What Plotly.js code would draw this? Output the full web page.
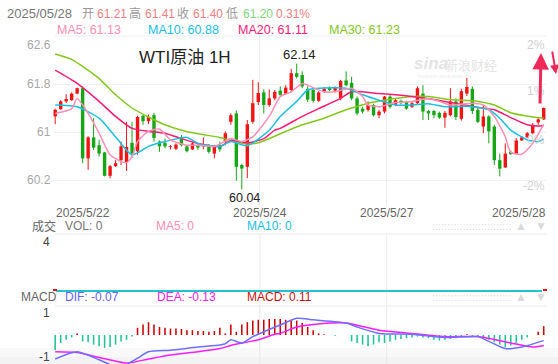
<!DOCTYPE html>
<html><head><meta charset="utf-8">
<script src="https://cdn.plot.ly/plotly-3.0.1.min.js"></script>
<style>html,body{margin:0;padding:0;background:#fff;}#chart{width:558px;height:364px;}</style>
</head><body><div id="chart"></div>
<script>
// ---- data ----
const openP  = [61.26,61.38,61.51,61.53,61.64,61.73,60.56,60.91,60.78,60.66,60.27,60.43,60.53,60.50,60.82,60.68,61.27,61.18,61.28,60.84,60.82,60.75,60.72,60.91,60.76,60.71,60.78,60.76,60.78,60.64,60.78,60.84,61.17,61.31,60.45,60.42,61.17,61.50,61.66,61.45,61.56,61.69,61.64,61.70,61.98,61.95,61.72,61.70,61.52,61.67,61.74,61.69,61.56,61.86,61.82,61.56,61.39,61.37,61.45,61.28,61.34,61.59,61.45,61.52,61.50,61.42,61.48,61.64,61.35,61.35,61.32,61.24,61.28,61.51,61.22,61.64,61.72,61.37,61.09,61.26,61.09,60.53,60.41,60.67,60.64,60.86,60.91,60.98,61.16,61.21];
const highP  = [61.39,61.53,61.63,61.66,61.74,61.76,60.93,61.23,60.87,60.67,60.45,60.53,60.84,61.17,61.17,61.27,61.29,61.29,61.32,60.86,60.89,60.78,60.81,60.95,60.78,60.84,60.80,60.91,60.80,60.78,60.84,61.01,61.31,61.36,60.47,61.20,61.87,61.83,61.71,61.71,61.70,61.76,61.78,62.05,62.14,62.01,61.76,61.73,61.68,61.75,61.76,61.76,61.87,62.01,61.92,61.59,61.42,61.51,61.47,61.37,61.60,61.62,61.55,61.54,61.52,61.50,61.76,61.78,61.37,61.37,61.34,61.35,61.73,61.56,61.72,61.90,61.76,61.40,61.45,61.28,61.12,60.64,60.81,60.69,60.90,60.93,61.00,61.15,61.24,61.41];
const lowP   = [61.13,61.37,61.48,61.52,61.63,60.48,60.37,60.70,60.59,60.26,60.23,60.42,60.45,60.35,60.57,60.62,61.12,61.13,60.84,60.67,60.73,60.71,60.70,60.76,60.66,60.70,60.70,60.71,60.64,60.56,60.67,60.78,61.12,60.19,60.04,60.23,61.14,61.45,61.31,61.42,61.53,61.59,61.62,61.66,61.89,61.73,61.50,61.49,61.50,61.65,61.68,61.66,61.53,61.76,61.53,61.28,61.31,61.34,61.26,61.23,61.31,61.39,61.43,61.46,61.37,61.40,61.45,61.20,61.20,61.23,61.22,61.07,61.26,61.20,61.19,61.60,61.30,61.15,60.98,60.81,60.45,60.26,60.40,60.62,60.63,60.85,60.90,60.96,61.12,61.20];
const closeP = [61.37,61.51,61.55,61.64,61.73,60.56,60.91,60.74,60.64,60.27,60.43,60.48,60.76,60.75,60.64,61.25,61.18,61.25,60.90,60.76,60.76,60.76,60.79,60.78,60.68,60.81,60.74,60.79,60.67,60.75,60.71,60.98,61.28,60.42,60.39,61.13,61.48,61.65,61.45,61.56,61.67,61.62,61.74,61.98,61.92,61.76,61.54,61.52,61.66,61.72,61.70,61.74,61.85,61.78,61.56,61.31,61.34,61.45,61.28,61.34,61.59,61.42,61.53,61.48,61.39,61.48,61.73,61.34,61.31,61.28,61.24,61.32,61.51,61.25,61.68,61.75,61.35,61.17,61.26,61.01,60.53,60.39,60.64,60.63,60.86,60.91,60.98,61.12,61.21,61.40];

const ma5Idx  = [0,3,4,6,8,10,12,13,14,15,17,19,21,24,26,29,32,34,36,39,41,43,45,46,49,51,54,56,57,59,62,65,68,70,72,76,78,80,82,83,85,87,89];
const ma5Val  = [61.31,61.39,61.56,61.31,60.98,60.62,60.51,60.49,60.59,60.84,61.01,61.05,60.87,60.78,60.78,60.76,60.89,60.84,60.92,61.26,61.59,61.67,61.81,61.78,61.67,61.67,61.73,61.59,61.45,61.42,61.49,61.51,61.56,61.51,61.45,61.48,61.45,61.26,60.92,60.66,60.63,60.81,61.13];
const ma10Idx = [0,4,8,11,14,17,20,24,26,30,32,35,39,41,44,46,48,53,56,59,62,65,68,71,75,79,81,83,86,88,89];
const ma10Val = [61.45,61.42,61.23,60.92,60.62,60.76,60.84,60.91,60.81,60.76,60.84,60.77,61.03,61.26,61.51,61.70,61.73,61.73,61.62,61.53,61.45,61.45,61.47,61.42,61.43,61.37,61.23,61.03,60.87,60.84,60.88];
const ma20Idx = [0,4,8,11,14,17,20,23,26,30,32,35,38,40,41,45,48,52,54,59,65,71,77,80,83,86,88,89];
const ma20Val = [62.03,61.81,61.51,61.26,61.06,61.01,60.98,60.89,60.81,60.76,60.86,60.82,60.89,61.03,61.06,61.26,61.39,61.56,61.67,61.64,61.59,61.51,61.41,61.37,61.24,61.12,61.10,61.11];
const ma30Idx = [0,3,8,11,14,17,20,23,26,30,32,35,37,40,41,45,48,53,57,60,65,68,72,77,80,83,87,89];
const ma30Val = [62.30,62.21,61.89,61.62,61.40,61.25,61.12,61.03,60.97,60.91,60.86,60.80,60.82,60.93,60.97,61.12,61.20,61.37,61.48,61.53,61.59,61.59,61.54,61.51,61.45,61.32,61.25,61.23];

const macdHist = [-0.19,-0.10,-0.06,-0.03,0.02,-0.08,-0.09,-0.12,-0.14,-0.16,-0.15,-0.12,-0.08,-0.06,-0.02,0.09,0.13,0.16,0.13,0.10,0.09,0.08,0.08,0.075,0.06,0.06,0.05,0.05,0.04,0.05,0.09,0.02,0.13,0.04,0.13,0.16,0.18,0.19,0.19,0.20,0.20,0.20,0.19,0.19,0.18,0.15,0.10,0.06,0.02,0.01,0,-0.01,0,0,-0.08,-0.10,-0.12,-0.14,-0.12,-0.09,-0.10,-0.08,-0.06,-0.05,-0.04,-0.03,-0.02,-0.03,-0.04,-0.06,-0.07,-0.06,-0.05,-0.04,-0.02,0.01,-0.02,-0.02,-0.04,-0.06,-0.09,-0.12,-0.15,-0.13,-0.10,-0.06,-0.03,0,0.04,0.11];
const difIdx = [0,4,8,10,12,14,15,17,21,26,30,31,32,34,36,38,40,41,44,47,53,55,59,65,71,77,79,82,85,89];
const difVal = [-0.30,-0.21,-0.31,-0.37,-0.40,-0.33,-0.29,-0.21,-0.19,-0.15,-0.125,-0.11,-0.06,-0.10,-0.02,0.04,0.10,0.125,0.21,0.19,0.15,0.10,0.02,0.01,-0.03,-0.02,-0.08,-0.17,-0.15,-0.07];
const deaIdx = [0,4,8,13,17,21,26,30,32,37,40,41,44,50,53,59,65,71,77,83,87,89];
const deaVal = [-0.21,-0.22,-0.28,-0.35,-0.30,-0.25,-0.21,-0.17,-0.13,-0.06,0.01,0.02,0.10,0.15,0.15,0.06,0.02,-0.02,-0.02,-0.10,-0.15,-0.13];

const dateLabels = ['2025/5/22','2025/5/24','2025/5/27','2025/5/28'];
const dateTickIdx = [37.3, 60.4];
const priceTicks = [62.6, 61.8, 61, 60.2];
const pctLabels = ['2%','1%','0%','-2%'];

// ---- styling ----
const FONT = 'Liberation Sans, Arial, Noto Sans CJK SC, sans-serif';
const W = 558, H = 364;
const RED = '#f21414', GREEN = '#16a616';
const C_MA5 = '#ff8fb4', C_MA10 = '#19c0e3', C_MA20 = '#ff1a72', C_MA30 = '#84c81c';
const px = x => x / W, py = y => 1 - y / H;

const traces = [];
const upI = [], dnI = [];
closeP.forEach((c, i) => (c >= openP[i] ? upI : dnI).push(i));
function bodyTrace(ids, color) {
  return {type:'bar', x: ids, base: ids.map(i => Math.min(openP[i], closeP[i])),
    y: ids.map(i => Math.max(Math.abs(closeP[i]-openP[i]), 0.012)),
    width: 0.62, marker:{color: color, line:{width:0}}, xaxis:'x', yaxis:'y', hoverinfo:'skip'};
}
function wickTrace(ids, color) {
  const xs = [], ys = [];
  ids.forEach(i => { xs.push(i, i, null); ys.push(lowP[i], highP[i], null); });
  return {type:'scatter', mode:'lines', x: xs, y: ys, line:{color: color, width:1}, xaxis:'x', yaxis:'y', hoverinfo:'skip'};
}
traces.push(bodyTrace(upI, RED), bodyTrace(dnI, GREEN), wickTrace(upI, RED), wickTrace(dnI, GREEN));
function maLine(xs, ys, color) {
  return {type:'scatter', mode:'lines', x: xs, y: ys, line:{color: color, width:1.5, shape:'spline', smoothing:0.6}, xaxis:'x', yaxis:'y', hoverinfo:'skip'};
}
traces.push(maLine(ma30Idx, ma30Val, C_MA30), maLine(ma20Idx, ma20Val, C_MA20), maLine(ma10Idx, ma10Val, C_MA10), maLine(ma5Idx, ma5Val, C_MA5));

// MACD
const hp = [], hn = [];
macdHist.forEach((v, i) => (v >= 0 ? hp : hn).push(i));
traces.push({type:'bar', x: hp, y: hp.map(i => macdHist[i]), width:0.28, marker:{color:'#cc0000'}, xaxis:'x', yaxis:'y3', hoverinfo:'skip'});
traces.push({type:'bar', x: hn, y: hn.map(i => macdHist[i]), width:0.28, marker:{color:'#1cc497'}, xaxis:'x', yaxis:'y3', hoverinfo:'skip'});
traces.push({type:'scatter', mode:'lines', x: deaIdx, y: deaVal, line:{color:'#ff1aff', width:1.5, shape:'spline', smoothing:0.6}, xaxis:'x', yaxis:'y3', hoverinfo:'skip'});
traces.push({type:'scatter', mode:'lines', x: difIdx, y: difVal, line:{color:'#6f6fff', width:1.5, shape:'spline', smoothing:0.6}, xaxis:'x', yaxis:'y3', hoverinfo:'skip'});

// ---- annotations ----
const ann = [];
function T(text, x, y, color, size, xanchor, extra) {
  ann.push(Object.assign({text: text, xref:'paper', yref:'paper', x: px(x), y: py(y), xanchor: xanchor || 'left', yanchor:'middle',
    showarrow:false, font:{family: FONT, size: size, color: color}}, extra || {}));
}
// header row 1
T('2025/05/28', 5, 14, '#777', 13);
T('开', 80, 14, '#999', 12); T('61.21', 95, 14, '#f28080', 12);
T('高', 127, 14, '#999', 12); T('61.41', 143, 14, '#f28080', 12);
T('收', 175, 14, '#999', 12); T('61.40', 191, 14, '#f28080', 12);
T('低', 224, 14, '#999', 12); T('61.20', 241, 14, '#7fd57f', 12);
T('0.31%', 274, 14, '#f28080', 12);
// row 2
T('MA5: 61.13', 55, 30, C_MA5, 12.5);
T('MA10: 60.88', 146, 30, C_MA10, 12.5);
T('MA20: 61.11', 236, 30, C_MA20, 12.5);
T('MA30: 61.23', 327, 30, C_MA30, 12.5);
// title and watermark
T('WTI原油 1H', 137, 57, '#222', 17);
T('<b><i>sina</i></b>', 412, 63, '#e4e4e4', 17);
T('新浪财经', 443, 65, '#e4e4e4', 13);
T('finance.sina.com.cn', 416, 76, '#ececec', 6);
// price axis labels (left)
priceTicks.forEach((v, k) => ann.push({text: String(v), xref:'paper', yref:'y', x: px(53), y: v, xanchor:'right',
  yanchor: k === 0 ? 'top' : 'middle', showarrow:false, font:{family: FONT, size:12, color:'#a8a8a8'}}));
// right percent labels
[45, 91, 140, 186].forEach((y, k) => T(pctLabels[k], 547, y, '#cfcfcf', 12, 'right'));
// high / low marks
const hiIdx = highP.indexOf(Math.max(...highP)), loIdx = lowP.indexOf(Math.min(...lowP));
ann.push({text: highP[hiIdx].toFixed(2), xref:'x', yref:'y', x: hiIdx, y: highP[hiIdx], xanchor:'center', yanchor:'bottom', xshift:3, yshift:0,
  showarrow:false, font:{family: FONT, size:13, color:'#222'}});
ann.push({text: lowP[loIdx].toFixed(2), xref:'x', yref:'y', x: loIdx, y: lowP[loIdx], xanchor:'center', yanchor:'top', xshift:3, yshift:1,
  showarrow:false, font:{family: FONT, size:12.5, color:'#222'}});
// date labels
T(dateLabels[0], 54, 212.5, '#666', 12);
ann.push({text: dateLabels[1], xref:'x', yref:'paper', x: dateTickIdx[0], y: py(212.5), xanchor:'center', yanchor:'middle', showarrow:false, font:{family: FONT, size:12, color:'#666'}});
ann.push({text: dateLabels[2], xref:'x', yref:'paper', x: dateTickIdx[1], y: py(212.5), xanchor:'center', yanchor:'middle', showarrow:false, font:{family: FONT, size:12, color:'#666'}});
T(dateLabels[3], 548, 212.5, '#666', 12, 'right');
// volume header
T('成交', 30, 226, '#666', 12);
T('VOL: 0', 63, 226, '#777', 12);
T('MA5: 0', 154, 226, C_MA5, 12);
T('MA10: 0', 245, 226, C_MA10, 12);
T('4', 52, 242, '#444', 12, 'right');
// macd header
T('MACD', 19, 297, '#666', 12);
T('DIF: -0.07', 63, 297, '#6464ff', 12);
T('DEA: -0.13', 155, 297, '#ff22ee', 12);
T('MACD: 0.11', 245, 297, '#cc1111', 12);
T('1', 52, 313, '#444', 12, 'right');
T('-1', 52, 357, '#444', 12, 'right');
// dotted bands & triangles
[226, 297].forEach(y => {
  T('::::::::::::::::::::::::::', 430, y, '#dcdcdc', 11);
  T('▲', 521, y, '#dadada', 12, 'center');
  T('▼', 541, y, '#dadada', 12, 'center');
});
// hand-drawn arrows
ann.push({xref:'paper', yref:'paper', x: px(541), y: py(53), ax: -1, ay: 52, showarrow:true, text:'',
  arrowhead:2, arrowsize:1.1, arrowwidth:3, arrowcolor:'#f0285a'});
ann.push({xref:'paper', yref:'paper', x: px(556), y: py(74), ax: -4, ay: -24, showarrow:true, text:'',
  arrowhead:2, arrowsize:0.9, arrowwidth:2, arrowcolor:'#f0285a'});

// ---- shapes ----
const shapes = [
  {type:'line', xref:'paper', yref:'paper', x0: px(55), x1: px(547), y0: py(36), y1: py(36), line:{color:'#eeeeee', width:1}},
  {type:'line', xref:'paper', yref:'paper', x0: px(55), x1: px(547), y0: py(234), y1: py(234), line:{color:'#eaeaea', width:1}},
  {type:'line', xref:'paper', yref:'paper', x0: px(55), x1: px(547), y0: py(306), y1: py(306), line:{color:'#eaeaea', width:1}},
  {type:'rect', xref:'paper', yref:'paper', x0: 0, x1: 1, y0: 0, y1: py(348), fillcolor:'rgba(0,0,0,0.025)', line:{width:0}, layer:'below'},
  {type:'rect', xref:'paper', yref:'paper', x0: 0, x1: 1, y0: 0, y1: py(357), fillcolor:'rgba(0,0,0,0.025)', line:{width:0}, layer:'below'},
  {type:'line', xref:'paper', yref:'paper', x0: px(56), x1: px(542), y0: py(291), y1: py(291), line:{color:'#22c2cf', width:2}},
  {type:'line', xref:'paper', yref:'paper', x0: px(53), x1: px(57), y0: py(290), y1: py(290), line:{color:'#ee1111', width:2}},
  {type:'line', xref:'paper', yref:'paper', x0: px(543), x1: px(547), y0: py(290), y1: py(290), line:{color:'#ee1111', width:2}}
];
dateTickIdx.forEach(v => shapes.push({type:'line', xref:'x', yref:'paper', x0: v, x1: v, y0: 0, y1: py(234), line:{color:'#ececec', width:1}, layer:'below'}));

const layout = {
  width: W, height: H, margin:{l:0, r:0, t:0, b:0}, paper_bgcolor:'#fff', plot_bgcolor:'rgba(0,0,0,0)',
  showlegend:false, barmode:'overlay', font:{family: FONT},
  xaxis:{domain:[px(53), px(547)], range:[-0.4, 89.6], showticklabels:false, ticks:'', tickvals: dateTickIdx,
    showgrid:true, gridcolor:'#ececec', zeroline:false, showline:false, fixedrange:true, anchor:'y'},
  yaxis:{domain:[py(205), py(36)], range:[62.6 - 169/60, 62.6], tickvals:[61.8, 61, 60.2], showticklabels:false,
    showgrid:true, gridcolor:'#f1f1f1', zeroline:false, showline:false, anchor:'x'},
  yaxis3:{domain:[0, py(306)], range:[-0.3625, 0.3625], showticklabels:false, showgrid:false, zeroline:false, anchor:'x'},
  annotations: ann, shapes: shapes
};
Plotly.newPlot('chart', traces, layout, {staticPlot:true, displayModeBar:false});
</script></body></html>
